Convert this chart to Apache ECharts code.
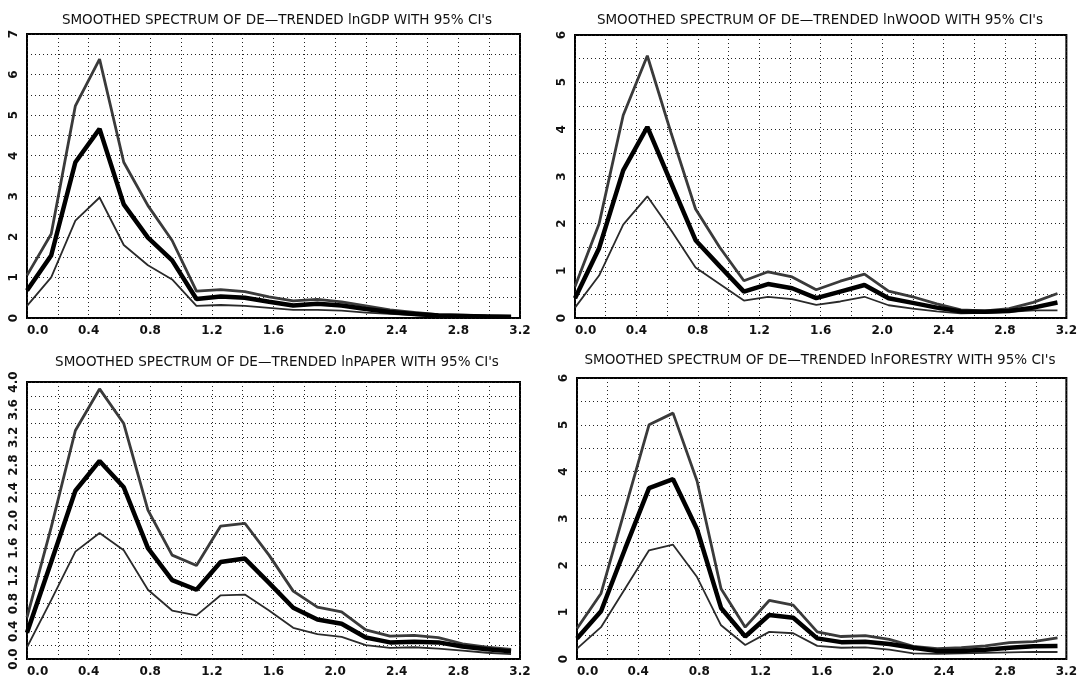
<!DOCTYPE html>
<html>
<head>
<meta charset="utf-8">
<script src="https://cdn.jsdelivr.net/npm/echarts@6/dist/echarts.min.js"></script>
<style>html,body{margin:0;padding:0;background:#fff}#c{width:1080px;height:678px}</style>
</head>
<body>
<div id="c"></div>
<script>
// Frequencies (radians)
const freq = [0, 0.157, 0.314, 0.471, 0.628, 0.785, 0.942, 1.100, 1.257, 1.414, 1.571, 1.728, 1.885, 2.042, 2.199, 2.356, 2.513, 2.670, 2.827, 2.985, 3.142];

const titles = [
  "SMOOTHED SPECTRUM OF DE\u2014TRENDED lnGDP WITH 95% CI's",
  "SMOOTHED SPECTRUM OF DE\u2014TRENDED lnWOOD WITH 95% CI's",
  "SMOOTHED SPECTRUM OF DE\u2014TRENDED lnPAPER WITH 95% CI's",
  "SMOOTHED SPECTRUM OF DE\u2014TRENDED lnFORESTRY WITH 95% CI's"
];

// lnGDP
const gdpMid   = [0.68, 1.54, 3.84, 4.66, 2.80, 1.98, 1.42, 0.47, 0.53, 0.50, 0.40, 0.31, 0.35, 0.31, 0.22, 0.15, 0.10, 0.06, 0.05, 0.04, 0.03];
const gdpUpper = [1.05, 2.07, 5.23, 6.38, 3.84, 2.77, 1.91, 0.66, 0.70, 0.65, 0.52, 0.42, 0.46, 0.40, 0.30, 0.20, 0.14, 0.08, 0.07, 0.05, 0.04];
const gdpLower = [0.30, 1.00, 2.40, 2.97, 1.80, 1.30, 0.95, 0.30, 0.32, 0.30, 0.25, 0.20, 0.20, 0.18, 0.13, 0.10, 0.07, 0.04, 0.03, 0.02, 0.02];

// lnWOOD
const woodMid   = [0.42, 1.48, 3.13, 4.05, 2.85, 1.65, 1.10, 0.56, 0.72, 0.63, 0.42, 0.56, 0.70, 0.42, 0.32, 0.22, 0.14, 0.13, 0.15, 0.22, 0.33];
const woodUpper = [0.67, 2.00, 4.30, 5.56, 3.90, 2.31, 1.50, 0.79, 0.98, 0.87, 0.60, 0.78, 0.93, 0.57, 0.45, 0.30, 0.17, 0.15, 0.20, 0.33, 0.52];
const woodLower = [0.22, 0.90, 1.98, 2.58, 1.85, 1.07, 0.72, 0.37, 0.45, 0.40, 0.28, 0.35, 0.45, 0.27, 0.20, 0.14, 0.10, 0.11, 0.13, 0.16, 0.16];

// lnPAPER
const paperMid   = [0.38, 1.40, 2.43, 2.86, 2.48, 1.60, 1.14, 1.00, 1.40, 1.45, 1.10, 0.74, 0.57, 0.51, 0.31, 0.24, 0.25, 0.24, 0.18, 0.14, 0.11];
const paperUpper = [0.60, 1.90, 3.30, 3.90, 3.40, 2.15, 1.50, 1.35, 1.92, 1.96, 1.50, 0.98, 0.75, 0.68, 0.42, 0.33, 0.34, 0.31, 0.22, 0.17, 0.14];
const paperLower = [0.17, 0.85, 1.55, 1.82, 1.57, 1.00, 0.70, 0.63, 0.92, 0.93, 0.70, 0.45, 0.36, 0.32, 0.20, 0.16, 0.17, 0.15, 0.12, 0.09, 0.07];

// lnFORESTRY
const forMid   = [0.44, 1.02, 2.35, 3.65, 3.84, 2.77, 1.09, 0.48, 0.94, 0.88, 0.44, 0.36, 0.37, 0.32, 0.24, 0.17, 0.17, 0.20, 0.24, 0.27, 0.28];
const forUpper = [0.65, 1.40, 3.20, 5.00, 5.25, 3.80, 1.50, 0.68, 1.25, 1.15, 0.58, 0.48, 0.50, 0.42, 0.27, 0.22, 0.24, 0.28, 0.35, 0.37, 0.45];
const forLower = [0.22, 0.68, 1.50, 2.32, 2.44, 1.75, 0.72, 0.30, 0.58, 0.55, 0.28, 0.24, 0.25, 0.20, 0.12, 0.11, 0.12, 0.13, 0.14, 0.15, 0.15];

const panels = [
  {mid: gdpMid, up: gdpUpper, lo: gdpLower, ymax: 7, yint: 1, dec: 0},
  {mid: woodMid, up: woodUpper, lo: woodLower, ymax: 6, yint: 1, dec: 0},
  {mid: paperMid, up: paperUpper, lo: paperLower, ymax: 4, yint: 0.4, dec: 1},
  {mid: forMid, up: forUpper, lo: forLower, ymax: 6, yint: 1, dec: 0}
];

const grids = [
  {left: 27, top: 34, width: 493, height: 284},
  {left: 575, top: 35, width: 495, height: 283},
  {left: 27, top: 382, width: 493, height: 280},
  {left: 577, top: 378, width: 493, height: 284}
];
const titlePos = [[272, 8], [815, 8], [272, 350], [815, 348]];

const dotted = {show: true, lineStyle: {color: '#222', width: 1, type: [1, 3]}};
const labelFont = {fontFamily: 'DejaVu Sans', fontSize: 12, fontWeight: 'bold', color: '#111'};

const option = {
  backgroundColor: '#fff',
  animation: false,
  title: titles.map((t, i) => ({
    text: t, left: titlePos[i][0], top: titlePos[i][1], textAlign: 'center',
    textStyle: {fontFamily: 'DejaVu Sans', fontSize: 13.5, fontWeight: 'normal', color: '#111'}
  })),
  grid: grids.map(g => Object.assign({show: true, borderColor: '#000', borderWidth: 2, backgroundColor: 'transparent'}, g)),
  xAxis: panels.map((p, i) => ({
    type: 'value', gridIndex: i, min: 0, max: 3.2, interval: 0.4,
    axisLine: {show: false}, axisTick: {show: false},
    splitLine: dotted,
    minorTick: {show: false, splitNumber: 2},
    minorSplitLine: dotted,
    axisLabel: Object.assign({margin: 7, alignMinLabel: 'left', formatter: v => v.toFixed(1)}, labelFont)
  })),
  yAxis: panels.map((p, i) => ({
    type: 'value', gridIndex: i, min: 0, max: p.ymax, interval: p.yint,
    axisLine: {show: false}, axisTick: {show: false},
    splitLine: dotted,
    minorTick: {show: false, splitNumber: 2},
    minorSplitLine: dotted,
    axisLabel: Object.assign({margin: 7, rotate: 90, formatter: v => v.toFixed(p.dec)}, labelFont)
  })),
  series: []
};

panels.forEach((p, i) => {
  const mk = (arr, w, col, z) => ({
    type: 'line', xAxisIndex: i, yAxisIndex: i, data: freq.map((f, k) => [f, arr[k]]),
    symbol: 'none', lineStyle: {width: w, color: col}, z: z, silent: true
  });
  option.series.push(mk(p.up, 2.8, '#3a3a3a', 3));
  option.series.push(mk(p.lo, 1.8, '#2a2a2a', 3));
  option.series.push(mk(p.mid, 4.5, '#000', 4));
});

const chart = echarts.init(document.getElementById('c'), null, {renderer: 'canvas'});
chart.setOption(option);
</script>
</body>
</html>
